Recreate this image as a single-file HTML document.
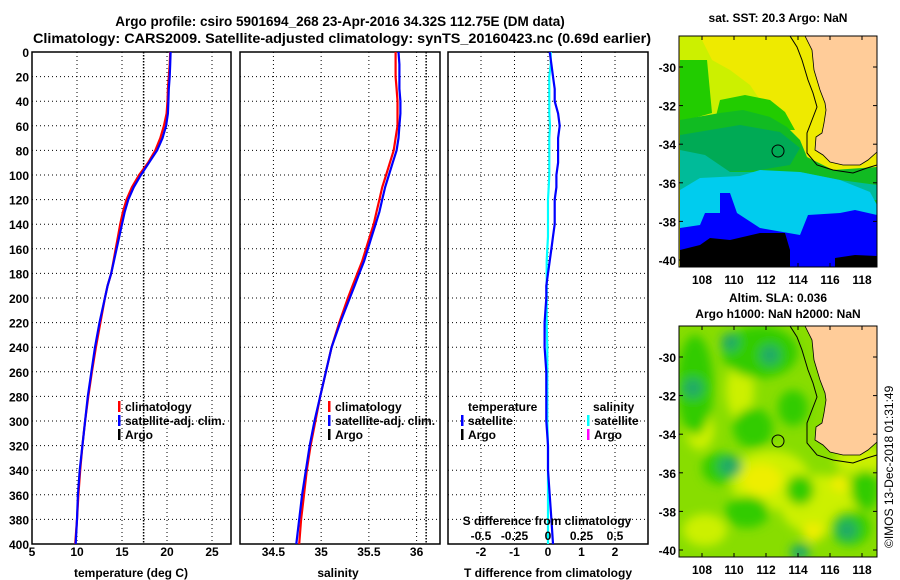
<!DOCTYPE html>
<html><head><meta charset="utf-8"><title>Argo profile</title>
<style>
html,body{margin:0;padding:0;background:#fff;}
svg{display:block;font-family:"Liberation Sans",sans-serif;font-weight:bold;}
text{font-size:12px;fill:#000;}
</style></head>
<body>
<svg id="fig" width="900" height="580" viewBox="0 0 900 580" xmlns="http://www.w3.org/2000/svg">
<defs>
<clipPath id="mclip"><rect x="679" y="36" width="198" height="231"/></clipPath>
<filter id="blur" x="-30%" y="-30%" width="160%" height="160%"><feGaussianBlur stdDeviation="5"/></filter>
</defs>
<text x="340" y="26" text-anchor="middle" style="font-size:13.5px">Argo profile: csiro 5901694_268 23-Apr-2016 34.32S 112.75E (DM data)</text>
<text x="342" y="43" text-anchor="middle" style="font-size:13.5px" textLength="618" lengthAdjust="spacingAndGlyphs">Climatology: CARS2009. Satellite-adjusted climatology: synTS_20160423.nc (0.69d earlier)</text>

<!-- Map 1 -->
<g>
<text x="778" y="22" text-anchor="middle">sat. SST: 20.3 Argo: NaN</text>
<g clip-path="url(#mclip)">
<rect x="679" y="36" width="198" height="231" fill="#eeea00"/>
<polygon fill="#ccf000" points="680,36 700,36 712,60 730,70 750,85 760,100 740,112 680,133"/>
<polygon fill="#22cc00" points="680,60 707,60 712,113 680,122"/>
<polygon fill="#22cc00" points="720,100 745,95 770,100 785,112 795,130 780,130 740,122 715,120"/>
<polygon fill="#11bb22" points="680,120 720,113 743,110 770,117 787,127 800,140 807,157 833,170 877,167 877,267 680,267"/>
<polygon fill="#00aa55" points="680,135 740,125 780,132 800,148 790,165 760,170 720,172 680,178"/>
<polygon fill="#00bb99" points="680,150 705,155 730,172 760,172 800,172 840,180 877,185 877,200 680,200"/>
<polygon fill="#00ccee" points="680,190 700,178 740,176 760,170 800,172 840,180 870,192 877,205 877,267 680,267"/>
<polygon fill="#0000ff" points="680,228 700,225 705,213 720,213 720,193 730,193 737,213 760,228 800,235 808,215 840,213 855,210 877,215 877,267 680,267"/>
<polygon fill="#000" points="680,250 700,245 710,238 730,240 760,233 785,233 790,250 790,267 680,267"/>
<polygon fill="#000" points="835,258 855,255 877,256 877,267 835,267"/>
<polygon fill="#ffcc99" stroke="#000" stroke-width="0.8" points="805,36 812,50 814,70 820,90 825,103 826,110 824,123 822,133 816,137 815,150 823,155 830,162 843,165 860,165 868,160 877,152 877,36"/>
<polyline fill="none" stroke="#000" stroke-width="1" points="790,36 797,47 802,60 808,80 813,93 817,107 812,120 807,133 807,153 817,165 833,170 853,173 867,168 877,165"/>
</g>
<circle cx="778" cy="151" r="6" fill="none" stroke="#000" stroke-width="1"/>
<rect x="679" y="36" width="198" height="231" fill="none" stroke="#000" stroke-width="1"/>
<g id="map1ticks"></g>
</g>

<!-- Map 2 -->
<g>
<text x="778" y="302" text-anchor="middle">Altim. SLA: 0.036</text>
<text x="778" y="318" text-anchor="middle">Argo h1000: NaN h2000: NaN</text>
<g transform="translate(0,290)">
<g clip-path="url(#mclip)">
<rect x="679" y="36" width="198" height="231" fill="#88dd00"/>
<g filter="url(#blur)">
<ellipse cx="740" cy="100" rx="14" ry="30" fill="#ccf000"/>
<ellipse cx="700" cy="140" rx="14" ry="20" fill="#ccf000"/>
<ellipse cx="770" cy="190" rx="40" ry="30" fill="#ccf000"/>
<ellipse cx="820" cy="215" rx="40" ry="30" fill="#ccf000"/>
<ellipse cx="705" cy="240" rx="22" ry="16" fill="#ccf000"/>
<ellipse cx="860" cy="170" rx="25" ry="15" fill="#ccf000"/>
<ellipse cx="760" cy="62" rx="38" ry="26" fill="#33cc00"/>
<ellipse cx="695" cy="95" rx="18" ry="50" fill="#33cc00"/>
<ellipse cx="753" cy="138" rx="20" ry="20" fill="#33cc00"/>
<ellipse cx="793" cy="118" rx="15" ry="18" fill="#33cc00"/>
<ellipse cx="800" cy="200" rx="14" ry="15" fill="#33cc00"/>
<ellipse cx="747" cy="222" rx="22" ry="16" fill="#33cc00"/>
<ellipse cx="865" cy="200" rx="14" ry="20" fill="#33cc00"/>
<ellipse cx="850" cy="238" rx="20" ry="18" fill="#33cc00"/>
<ellipse cx="720" cy="178" rx="18" ry="16" fill="#33cc00"/>
<ellipse cx="730" cy="52" rx="9" ry="9" fill="#22aa66"/>
<ellipse cx="693" cy="98" rx="10" ry="10" fill="#22aa66"/>
<ellipse cx="770" cy="65" rx="10" ry="10" fill="#22aa66"/>
<ellipse cx="730" cy="176" rx="12" ry="10" fill="#22aa66"/>
<ellipse cx="800" cy="262" rx="10" ry="8" fill="#22aa66"/>
<ellipse cx="847" cy="240" rx="10" ry="10" fill="#22aa66"/>
<ellipse cx="762" cy="190" rx="20" ry="16" fill="#eeee00"/>
<ellipse cx="840" cy="193" rx="9" ry="9" fill="#eeee00"/>
<ellipse cx="813" cy="242" rx="10" ry="10" fill="#eeee00"/>
</g>
<polygon fill="#ffcc99" stroke="#000" stroke-width="0.8" points="805,36 812,50 814,70 820,90 825,103 826,110 824,123 822,133 816,137 815,150 823,155 830,162 843,165 860,165 868,160 877,152 877,36"/>
<polyline fill="none" stroke="#000" stroke-width="1" points="790,36 797,47 802,60 808,80 813,93 817,107 812,120 807,133 807,153 817,165 833,170 853,173 867,168 877,165"/>
</g>
<circle cx="778" cy="151" r="6" fill="none" stroke="#000" stroke-width="1"/>
<rect x="679" y="36" width="198" height="231" fill="none" stroke="#000" stroke-width="1"/>
<g id="map2ticks"></g>
</g>
</g>
<text transform="translate(893,548) rotate(-90)" style="font-size:12px;font-weight:normal">©IMOS 13-Dec-2018 01:31:49</text>

<g id="panels"></g>
</svg>
<script>
const depths = [0,10,20,30,40,50,60,70,80,90,100,110,120,130,140,150,160,170,180,190,200,220,240,260,280,300,320,340,360,380,400];
const tempSat = [20.4,20.35,20.3,20.2,20.15,20.1,19.9,19.5,18.9,18.0,17.1,16.3,15.7,15.3,15.0,14.7,14.4,14.1,13.8,13.4,13.1,12.5,12.0,11.6,11.2,10.9,10.6,10.3,10.1,10.0,9.85];
const tempClim = [20.35,20.3,20.2,20.1,20.05,19.95,19.65,19.25,18.7,17.9,16.9,16.1,15.5,15.1,14.8,14.55,14.3,14.05,13.8,13.4,13.1,12.6,12.1,11.65,11.25,10.9,10.6,10.35,10.15,10.0,9.8];
const salSat = [35.81,35.82,35.82,35.82,35.83,35.83,35.82,35.81,35.79,35.75,35.71,35.67,35.64,35.61,35.57,35.53,35.49,35.45,35.40,35.35,35.30,35.20,35.11,35.05,34.99,34.93,34.88,34.84,34.80,34.77,34.74];
const salClim = [35.78,35.78,35.78,35.79,35.80,35.80,35.80,35.78,35.76,35.72,35.68,35.64,35.61,35.58,35.55,35.51,35.47,35.43,35.38,35.33,35.28,35.19,35.11,35.05,34.99,34.94,34.89,34.85,34.82,34.79,34.77];
const tDiff = [0.05,0.1,0.15,0.2,0.2,0.3,0.35,0.3,0.3,0.3,0.25,0.25,0.2,0.2,0.2,0.15,0.1,0.05,0.0,-0.05,-0.05,-0.1,-0.1,-0.05,-0.05,-0.05,0,0,0.05,0.1,0.15];
const sDiff = [0.02,0.02,0.01,0.01,0.01,0.01,0.015,0.01,0.01,0.01,0.01,0.005,0,0,0,0,-0.005,-0.01,-0.01,-0.01,-0.01,-0.01,-0.005,-0.005,-0.005,-0.005,0,0,0,0,0];
const depthTicks = [0,20,40,60,80,100,120,140,160,180,200,220,240,260,280,300,320,340,360,380,400];
const tempTicks = [5,10,15,20,25];
const salTicks = [34.5,35,35.5,36];
const diffTicks = [-2,-1,0,1,2];
const sDiffTickLabels = ["-0.5","-0.25","0","0.25","0.5"];
const latTicks = [-30,-32,-34,-36,-38,-40];
const lonTicks = [108,110,112,114,116,118];

const NS="http://www.w3.org/2000/svg";
function el(tag, attrs, parent){const e=document.createElementNS(NS,tag);for(const k in attrs)e.setAttribute(k,attrs[k]);parent.appendChild(e);return e;}
const root=document.getElementById('panels');
const yTop=52, yBot=544;
const yS = d => yTop + d*(yBot-yTop)/400;

function panel(name, x0, x1, xmin, xmax, ticks, tickLabels, extraX){
  const g=el('g',{},root);
  
  
  const xS = v => x0 + (v-xmin)*(x1-x0)/(xmax-xmin);
  depthTicks.forEach(d=>{ if(d>0&&d<400) el('line',{x1:x0,x2:x1,y1:yS(d),y2:yS(d),stroke:'#000','stroke-width':1,'stroke-dasharray':'1 3'},g); });
  ticks.forEach((t,i)=>{
    const x=xS(t);
    if(x>x0+1&&x<x1-1) el('line',{x1:x,x2:x,y1:yTop,y2:yBot,stroke:'#000','stroke-width':1,'stroke-dasharray':'1 3'},g);
    const lb=el('text',{x:x,y:556,'text-anchor':'middle'},g);
    
    
    lb.textContent = tickLabels ? tickLabels[i] : String(t);
  });
  if(extraX!==undefined){ const x=xS(extraX); el('line',{x1:x,x2:x,y1:yTop,y2:yBot,stroke:'#000','stroke-width':1.5,'stroke-dasharray':'1.5 1.5'},g); }
  el('rect',{x:x0,y:yTop,width:x1-x0,height:yBot-yTop,fill:'none',stroke:'#000','stroke-width':1.5},g);
  return {g,xS};
}
function line(p, vals, color, name, xS){
  const pts=vals.map((v,i)=>(xS||p.xS)(v).toFixed(1)+','+yS(depths[i]).toFixed(1)).join(' ');
  const l=el('polyline',{points:pts,fill:'none',stroke:color,'stroke-width':2.2},p.g);
  
  
}
function legend(g,x,y,color,label,nm){
  el('rect',{x:x-1,y:y-6,width:2.5,height:11,fill:color},g);
  const t=el('text',{x:x+6,y:y+4},g); t.textContent=label;
  
  
}
function text(g,x,y,s,nm,anchor){const t=el('text',{x:x,y:y,'text-anchor':anchor||'middle'},g);t.textContent=s;
  
  
  return t;}

// Panel 1 temperature
const p1=panel('temperature-panel',32,231,5,27.11,tempTicks,null,17.4);
line(p1,tempClim,'#ff0000','temp-climatology-line');
line(p1,tempSat,'#0000ff','temp-satellite-line');
depthTicks.forEach(d=>{ text(p1.g,29,yS(d)+5,String(d),'depth-tick-label','end'); });
text(p1.g,131,577,'temperature (deg C)','temperature-axis-title');
legend(p1.g,119,407,'#ff0000','climatology','legend-climatology');
legend(p1.g,119,421,'#0000ff','satellite-adj. clim.','legend-satellite');
legend(p1.g,119,435,'#000','Argo','legend-argo');

// Panel 2 salinity
const p2=panel('salinity-panel',240,440,34.15,36.245,salTicks,null,36.1);
line(p2,salClim,'#ff0000','sal-climatology-line');
line(p2,salSat,'#0000ff','sal-satellite-line');
text(p2.g,338,577,'salinity','salinity-axis-title');
legend(p2.g,329,407,'#ff0000','climatology','legend-climatology-2');
legend(p2.g,329,421,'#0000ff','satellite-adj. clim.','legend-satellite-2');
legend(p2.g,329,435,'#000','Argo','legend-argo-2');

// Panel 3 differences
const p3=panel('difference-panel',448,648,-2.985,2.985,diffTicks,null);
const sxS = v => p3.xS(v*4);
line(p3,sDiff,'#00ffff','salinity-diff-line',sxS);
line(p3,tDiff,'#0000ff','temperature-diff-line');
text(p3.g,548,577,'T difference from climatology','t-diff-axis-title');
text(p3.g,547,525,'S difference from climatology','s-diff-axis-title');
diffTicks.forEach((t,i)=>{ text(p3.g,p3.xS(t),540,sDiffTickLabels[i],'s-diff-tick-label'); });
text(p3.g,468,411,'temperature','legend-temperature-heading','start');
legend(p3.g,462,421,'#0000ff','satellite','legend-temp-satellite');
legend(p3.g,462,435,'#000','Argo','legend-temp-argo');
text(p3.g,593,411,'salinity','legend-salinity-heading','start');
legend(p3.g,588,421,'#00ffff','satellite','legend-sal-satellite');
legend(p3.g,588,435,'#ff00ff','Argo','legend-sal-argo');

// Map ticks
function mapTicks(id){
  const g=document.getElementById(id);
  latTicks.forEach(la=>{
    const y=67+(-30-la)*19.3;
    el('line',{x1:679,x2:683,y1:y,y2:y,stroke:'#000'},g);
    el('line',{x1:873,x2:877,y1:y,y2:y,stroke:'#000'},g);
    const t=el('text',{x:676,y:y+5,'text-anchor':'end'},g); t.textContent=String(la);
    
    
  });
  lonTicks.forEach(lo=>{
    const x=702+(lo-108)*16;
    el('line',{x1:x,x2:x,y1:36,y2:40,stroke:'#000'},g);
    el('line',{x1:x,x2:x,y1:263,y2:267,stroke:'#000'},g);
    const t=el('text',{x:x,y:284,'text-anchor':'middle'},g); t.textContent=String(lo);
    
    
  });
}
mapTicks('map1ticks');
mapTicks('map2ticks');
</script>
</body></html>
